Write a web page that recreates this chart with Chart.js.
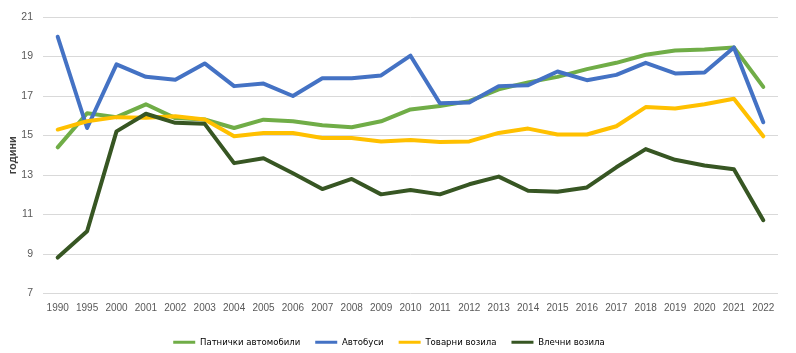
<!DOCTYPE html>
<html>
<head>
<meta charset="utf-8">
<script src="https://cdn.jsdelivr.net/npm/chart.js@4"></script>
<style>
  html, body { margin: 0; padding: 0; background: #fff; }
  #wrap { width: 796px; height: 353px; }
</style>
</head>
<body>
<div id="wrap"><canvas id="chart"></canvas></div>
<script>
// категории (години)
const years = ['1990', '1995', '2000', '2001', '2002', '2003', '2004', '2005', '2006', '2007', '2008', '2009', '2010',
  '2011', '2012', '2013', '2014', '2015', '2016', '2017', '2018', '2019', '2020', '2021', '2022'];

const patnichki = [14.4, 16.13, 15.93, 16.58, 15.88, 15.81, 15.38, 15.8, 15.72, 15.52, 15.42, 15.72, 16.32,
  16.49, 16.74, 17.34, 17.69, 17.97, 18.36, 18.68, 19.09, 19.3, 19.36, 19.46, 17.46];
const avtobusi = [20.0, 15.38, 18.6, 17.97, 17.82, 18.65, 17.5, 17.63, 17.0, 17.9, 17.9, 18.04, 19.04,
  16.63, 16.67, 17.5, 17.55, 18.24, 17.8, 18.07, 18.68, 18.14, 18.19, 19.46, 15.67];
const tovarni = [15.3, 15.72, 15.93, 15.9, 15.98, 15.81, 14.96, 15.13, 15.13, 14.87, 14.87, 14.7, 14.77,
  14.67, 14.7, 15.13, 15.35, 15.05, 15.05, 15.47, 16.44, 16.37, 16.58, 16.86, 14.96];
const vlechni = [8.82, 10.15, 15.21, 16.1, 15.64, 15.59, 13.6, 13.85, 13.09, 12.29, 12.8, 12.02, 12.24,
  12.02, 12.53, 12.92, 12.2, 12.15, 12.37, 13.39, 14.31, 13.77, 13.48, 13.29, 10.71];

const yTicks = [7, 9, 11, 13, 15, 17, 19, 21];

const seriesNames = ['Патнички автомобили', 'Автобуси', 'Товарни возила', 'Влечни возила'];
const seriesColors = ['#70AD47', '#4472C4', '#FFC000', '#375623'];
const seriesData = [patnichki, avtobusi, tovarni, vlechni];

const font = '"Liberation Sans", Arial, sans-serif';
const narrow = '"DejaVu Sans Condensed", "Liberation Sans", sans-serif';

const datasets = seriesData.map((d, i) => ({
  label: seriesNames[i],
  data: d,
  borderColor: seriesColors[i],
  backgroundColor: seriesColors[i],
  borderWidth: 4,
  pointRadius: 0,
  tension: 0,
  borderJoinStyle: 'round',
  borderCapStyle: 'round',
  order: 4 - i
}));

new Chart(document.getElementById('chart'), {
  type: 'line',
  data: { labels: years, datasets: datasets },
  options: {
    responsive: true,
    maintainAspectRatio: false,
    animation: false,
    layout: { padding: { top: 17, right: 18, bottom: -4, left: 0 } },
    plugins: {
      tooltip: { enabled: false },
      legend: {
        position: 'bottom',
        labels: {
          color: '#404040',
          font: { family: narrow, size: 9.5 },
          boxWidth: 22,
          boxHeight: 3,
          padding: 15,
          generateLabels: () => seriesNames.map((n, i) => ({
            text: n,
            fillStyle: seriesColors[i],
            strokeStyle: seriesColors[i],
            lineWidth: 0,
            datasetIndex: i,
            hidden: false
          }))
        }
      }
    },
    scales: {
      x: {
        offset: true,
        grid: { display: false },
        border: { display: false },
        afterFit: (scale) => { scale.height += 7; },
        ticks: {
          color: '#595959',
          font: { family: font, size: 10 },
          maxRotation: 0,
          autoSkip: false,
          padding: 1
        }
      },
      y: {
        min: 7,
        max: 21,
        afterBuildTicks: (scale) => { scale.ticks = yTicks.map(v => ({ value: v })); },
        afterFit: (scale) => { scale.width = 43; },
        grid: { color: '#D9D9D9', lineWidth: 1, drawTicks: false },
        border: { display: false },
        title: {
          display: true,
          text: 'години',
          color: '#404040',
          font: { family: font, size: 11, weight: 'bold' },
          padding: { top: 6, bottom: 0 }
        },
        ticks: {
          color: '#595959',
          font: { family: font, size: 10.5 },
          padding: 10
        }
      }
    }
  }
});
</script>
</body>
</html>
